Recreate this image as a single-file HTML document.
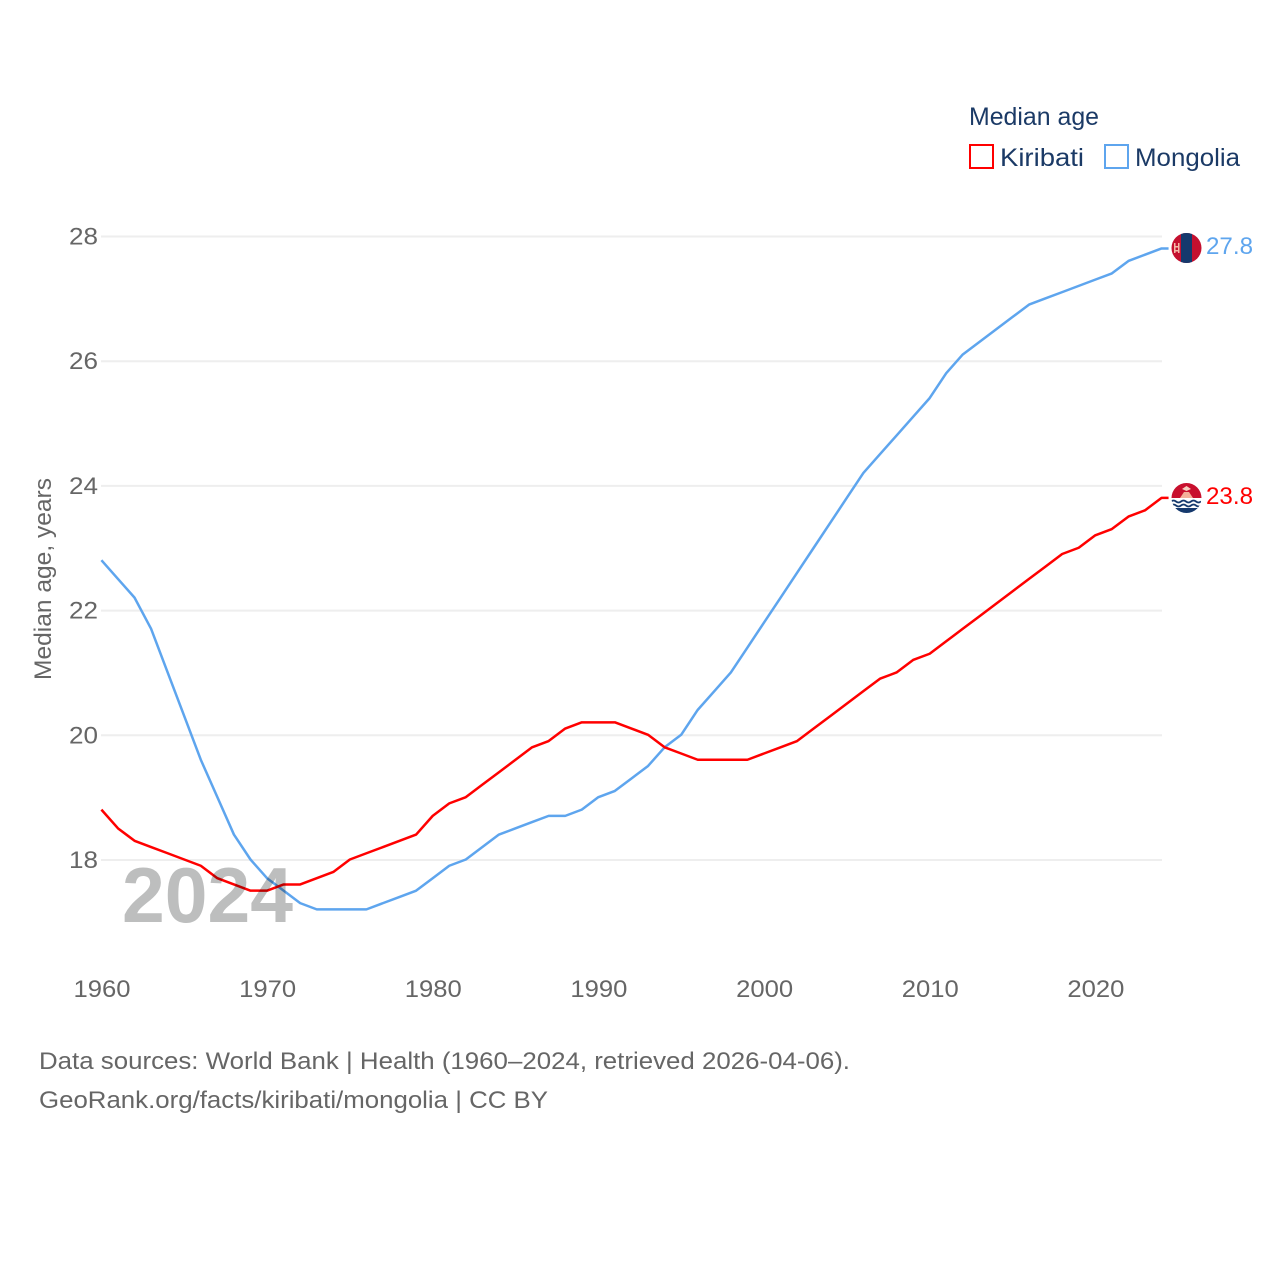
<!DOCTYPE html>
<html>
<head>
<meta charset="utf-8">
<title>Median age: Kiribati and Mongolia</title>
<style>
html,body{margin:0;padding:0;background:#fff;}
svg{display:block;}
text{font-family:"Liberation Sans",sans-serif;}
.tick{font-size:24px;fill:#666;}
.navy{font-size:25px;fill:#1b3a66;}
.src{font-size:24.5px;fill:#666;}
</style>
</head>
<body>
<svg id="chart" width="1280" height="1280" viewBox="0 0 1280 1280" xmlns="http://www.w3.org/2000/svg">
  <rect width="1280" height="1280" fill="#fff"/>
  <g id="grid"></g>
  <g id="yticks"></g>
  <g id="xticks"></g>
  <text class="tick" transform="translate(51,680) rotate(-90)" textLength="202" lengthAdjust="spacingAndGlyphs">Median age, years</text>
  <g id="series"></g>
  <text x="122" y="922" font-size="78" font-weight="700" fill="#bdbebe" textLength="171" lengthAdjust="spacingAndGlyphs" style="mix-blend-mode:multiply">2024</text>

  <g>
    <text class="navy" x="969" y="125" textLength="130" lengthAdjust="spacingAndGlyphs">Median age</text>
    <rect x="970" y="145" width="23" height="23" fill="none" stroke="#ff0000" stroke-width="2"/>
    <text class="navy" x="1000" y="166" textLength="84" lengthAdjust="spacingAndGlyphs">Kiribati</text>
    <rect x="1105" y="145" width="23" height="23" fill="none" stroke="#5ea5ee" stroke-width="2"/>
    <text class="navy" x="1135" y="166" textLength="105" lengthAdjust="spacingAndGlyphs">Mongolia</text>
  </g>

  <defs>
    <clipPath id="clip-mn"><circle cx="1186.5" cy="248" r="15"/></clipPath>
    <clipPath id="clip-ki"><circle cx="1186.5" cy="498" r="15"/></clipPath>
  </defs>

  <g clip-path="url(#clip-mn)">
    <rect x="1171" y="233" width="31" height="30" fill="#c4102f"/>
    <rect x="1181" y="233" width="11" height="30" fill="#15396d"/>
    <rect x="1174" y="243" width="1.5" height="10" fill="#f3b8a8"/>
    <rect x="1178" y="243" width="1.5" height="10" fill="#f3b8a8"/>
    <rect x="1175.5" y="246" width="2.5" height="1.5" fill="#f3b8a8"/>
    <rect x="1175.5" y="250" width="2.5" height="1.5" fill="#f3b8a8"/>
  </g>
  <g clip-path="url(#clip-ki)">
    <rect x="1171" y="483" width="31" height="15" fill="#c8102e"/>
    <polygon points="1180,498 1184,492 1189,492 1193,498" fill="#f4b09a"/>
    <polygon points="1182,489 1186.5,486 1191,489 1186.5,491" fill="#f6cfc0"/>
    <rect x="1171" y="498" width="31" height="16" fill="#fff"/>
    <path d="M1171 501.5q2.5 -2 5 0t5 0t5 0t5 0t5 0t5 0M1171 505.5q2.5 -2 5 0t5 0t5 0t5 0t5 0t5 0" fill="none" stroke="#15396d" stroke-width="1.8"/>
    <rect x="1171" y="508" width="31" height="6" fill="#15396d"/>
  </g>

  <text x="1206" y="254" font-size="24" fill="#5ea5ee" textLength="47" lengthAdjust="spacingAndGlyphs">27.8</text>
  <text x="1206" y="504" font-size="24" fill="#ff0000" textLength="47" lengthAdjust="spacingAndGlyphs">23.8</text>

  <text class="src" x="39" y="1069" textLength="811" lengthAdjust="spacingAndGlyphs">Data sources: World Bank | Health (1960–2024, retrieved 2026-04-06).</text>
  <text class="src" x="39" y="1108" textLength="509" lengthAdjust="spacingAndGlyphs">GeoRank.org/facts/kiribati/mongolia | CC BY</text>
</svg>
<script>
var startYear = 1960;
var kiribati = [18.8,18.5,18.3,18.2,18.1,18.0,17.9,17.7,17.6,17.5,17.5,17.6,17.6,17.7,17.8,18.0,18.1,18.2,18.3,18.4,18.7,18.9,19.0,19.2,19.4,19.6,19.8,19.9,20.1,20.2,20.2,20.2,20.1,20.0,19.8,19.7,19.6,19.6,19.6,19.6,19.7,19.8,19.9,20.1,20.3,20.5,20.7,20.9,21.0,21.2,21.3,21.5,21.7,21.9,22.1,22.3,22.5,22.7,22.9,23.0,23.2,23.3,23.5,23.6,23.8];
var mongolia = [22.8,22.5,22.2,21.7,21.0,20.3,19.6,19.0,18.4,18.0,17.7,17.5,17.3,17.2,17.2,17.2,17.2,17.3,17.4,17.5,17.7,17.9,18.0,18.2,18.4,18.5,18.6,18.7,18.7,18.8,19.0,19.1,19.3,19.5,19.8,20.0,20.4,20.7,21.0,21.4,21.8,22.2,22.6,23.0,23.4,23.8,24.2,24.5,24.8,25.1,25.4,25.8,26.1,26.3,26.5,26.7,26.9,27.0,27.1,27.2,27.3,27.4,27.6,27.7,27.8];
var yTickValues = [18,20,22,24,26,28];
var xTickValues = [1960,1970,1980,1990,2000,2010,2020];

var NS = 'http://www.w3.org/2000/svg';
function xScale(year){ return 101.4 + (year - 1960) * 16.565; }
function yScale(v){ return 859.5 - (v - 18) * 62.35; }
function make(tag, attrs, parent){
  var el = document.createElementNS(NS, tag);
  for (var k in attrs) el.setAttribute(k, attrs[k]);
  parent.appendChild(el);
  return el;
}
var grid = document.getElementById('grid');
var yticks = document.getElementById('yticks');
var xticks = document.getElementById('xticks');
var seriesGroup = document.getElementById('series');

yTickValues.forEach(function(v){
  var line = make('line', {x1:101, x2:1162, y1:yScale(v)+0.5, y2:yScale(v)+0.5, stroke:'#eeeeee', 'stroke-width':2}, grid);
  
  
  var t = make('text', {x:98, y:yScale(v)+8.5, 'text-anchor':'end', 'class':'tick', textLength:29, lengthAdjust:'spacingAndGlyphs'}, yticks);
  
  
  t.textContent = v;
});
xTickValues.forEach(function(y){
  var t = make('text', {x:xScale(y)+0.6, y:997, 'text-anchor':'middle', 'class':'tick', textLength:57, lengthAdjust:'spacingAndGlyphs'}, xticks);
  
  
  t.textContent = y;
});
function linePoints(values){
  var pts = values.map(function(v, i){
    return xScale(startYear + i).toFixed(2) + ',' + yScale(v).toFixed(2);
  });
  var last = values[values.length - 1];
  pts.push((xScale(startYear + values.length - 1) + 7).toFixed(2) + ',' + yScale(last).toFixed(2));
  return pts.join(' ');
}
var lineM = make('polyline', {points:linePoints(mongolia), fill:'none', stroke:'#5ea5ee', 'stroke-width':2.5, 'stroke-linejoin':'round'}, seriesGroup);


var lineK = make('polyline', {points:linePoints(kiribati), fill:'none', stroke:'#ff0000', 'stroke-width':2.5, 'stroke-linejoin':'round'}, seriesGroup);


</script>
</body>
</html>
